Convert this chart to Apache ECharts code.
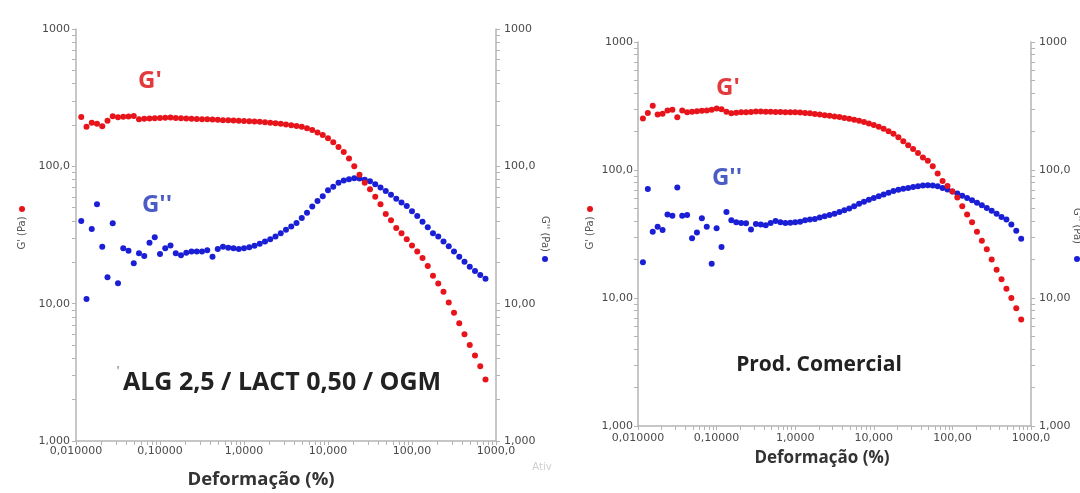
<!DOCTYPE html>
<html><head><meta charset="utf-8">
<script src="https://cdn.jsdelivr.net/npm/echarts@6/dist/echarts.min.js"></script>
<style>html,body{margin:0;padding:0;background:#fff}#c{width:1080px;height:493px}</style>
</head><body><div id="c"></div>
<script>
// Strain (%) values shared by both measurements
const strain = [0.01155,0.01334,0.0154,0.01778,0.02054,0.02371,0.02738,0.03162,0.03652,0.04217,0.0487,0.05623,0.06494,0.07499,0.0866,
0.1,0.1155,0.1334,0.154,0.1778,0.2054,0.2371,0.2738,0.3162,0.3652,0.4217,0.487,0.5623,0.6494,0.7499,0.866,
1,1.155,1.334,1.54,1.778,2.054,2.371,2.738,3.162,3.652,4.217,4.87,5.623,6.494,7.499,8.66,
10,11.55,13.34,15.4,17.78,20.54,23.71,27.38,31.62,36.52,42.17,48.7,56.23,64.94,74.99,86.6,
100,115.5,133.4,154,177.8,205.4,237.1,273.8,316.2,365.2,421.7,487,562.3,649.4,749.9];

// Left panel: ALG 2,5 / LACT 0,50 / OGM
const gp1 = [229,194,208,204,196,215,232,228,230,231, 233,220,222,223,224,225,226,227,225,224,
223,222,221,220,220,219,218,217,217,216, 215,214,213,212,211,209,208,206,204,202,
199,197,194,189,184,176,169,160,150,138, 127,114,100,87,76,68,60,53,45,40.5,
35.5,32.5,29.5,26.5,24,21.5,18.8,16,14,12.2, 10.2,8.6,7.2,6,5,4.2,3.5,2.8];
const gpp1 = [40,10.8,35,53,26,15.6,38.5,14.1,25.3,24.3, 19.7,23.3,22.2,27.8,30.5,23,25.3,26.5,23.3,22.5,
23.5,24,24,24,24.5,22,25,26,25.5,25.3, 25,25.3,25.8,26.4,27.3,28.3,29.5,30.8,32.5,34.5,
36.5,38.6,42,46,51,56,60.5,67,71,76, 79,80.5,82,81.5,80,78,74,70,66,62,
58,54.5,51.5,47,43.5,39.5,36,32.5,30.8,28.3, 26.2,24,22,20.2,18.6,17.3,16.2,15.2];

// Right panel: Prod. Comercial
const gp2 = [252,279,317,271,275,292,295,258,292,282, 285,288,290,292,296,302,298,285,278,280,
282,283,284,286,286,285,285,284,284,283, 283,282,281,279,277,274,271,268,265,262,
259,255,251,247,243,237,231,225,218,210, 201,192,180,168,156,146,136,125,118,107,
94,82,75,68,61,52,45,39,33,28, 24,20,16.6,14,11.8,10,8.3,6.8];
const gpp2 = [19,71,33,36,34,45,44,73,44,44.5, 29.3,32.5,42,36,18.5,35,25,47,40.5,39,
38.6,38.3,34.3,37.8,37.5,37,38.5,40,39,38.6, 38.8,39,39.5,40.5,41,41.5,42.5,43.5,44.5,45.5,
47,48.5,50,52,54.5,56.5,58.5,60.5,62.5,64.5, 66.5,68.5,70,71.5,72.5,73.5,74.5,75.5,76,75.5,
74.5,72.5,70.5,68,65.5,63,60.5,58,55.5,53, 50.5,48,45.5,43,41,37.5,33.5,29];

const xTickLabels = ['0,010000','0,10000','1,0000','10,000','100,00','1000,0'];
const yTickLabels = ['1,000','10,00','100,0','1000'];

const RED = '#e8141c', BLUE = '#1a1fd6';
const AX = '#b4b4b4', LBL = '#4a4a4a';

function decadesWithMinor(lo, hi) {
  const out = [];
  for (let e = lo; e < hi; e++) {
    for (let m = 1; m <= 9; m++) out.push(Number((m * Math.pow(10, e)).toPrecision(6)));
  }
  out.push(Math.pow(10, hi));
  return out;
}
const xTicksAll = decadesWithMinor(-2, 3);
const yTicksAll = decadesWithMinor(0, 3);

function xAx(g, margin) {
  return {
    type: 'log', logBase: 10, gridIndex: g, min: 0.01, max: 1000,
    axisLine: {show: true, onZero: false, lineStyle: {color: AX, width: 1.5}},
    axisTick: {show: true, length: 4, customValues: xTicksAll, lineStyle: {color: AX}},
    axisLabel: {margin: margin, color: LBL, fontFamily: 'DejaVu Sans', fontSize: 11,
      formatter: v => xTickLabels[Math.round(Math.log10(v)) + 2]},
    splitLine: {show: false}
  };
}
function yAx(g, pos, margin) {
  return {
    type: 'log', logBase: 10, gridIndex: g, min: 1, max: 1000, position: pos,
    axisLine: {show: true, onZero: false, lineStyle: {color: AX, width: 1.5}},
    axisTick: {show: true, length: 4, customValues: yTicksAll, lineStyle: {color: AX}},
    axisLabel: {margin: margin, color: LBL, fontFamily: 'DejaVu Sans', fontSize: 11,
      formatter: v => yTickLabels[Math.round(Math.log10(v))]},
    splitLine: {show: false}
  };
}
function pts(ys) { return strain.map((x, i) => [x, ys[i]]); }
function sc(name, xi, yi, ys, color) {
  return {type: 'scatter', name: name, xAxisIndex: xi, yAxisIndex: yi, data: pts(ys),
    symbol: 'circle', symbolSize: 6, itemStyle: {color: color, opacity: 1}, silent: true, z: color === RED ? 3 : 2};
}

const chart = echarts.init(document.getElementById('c'), null, {renderer: 'canvas'});
const txt = (x, y, text, font, fill, rot) => ({type: 'text', x: x, y: y, rotation: rot || 0, silent: true,
  style: {text: text, font: font, fill: fill, align: 'center', verticalAlign: 'middle'}});
const dot = (x, y, color) => ({type: 'circle', silent: true, shape: {cx: x, cy: y, r: 3}, style: {fill: color}});

chart.setOption({
  animation: false,
  backgroundColor: '#fff',
  grid: [
    {left: 76, top: 29, width: 420, height: 412, outerBoundsMode: 'none', containLabel: false},
    {left: 638, top: 42, width: 393, height: 384, outerBoundsMode: 'none', containLabel: false}
  ],
  xAxis: [xAx(0, 5), xAx(1, 7)],
  yAxis: [yAx(0, 'left', 6), yAx(0, 'right', 8), yAx(1, 'left', 5), yAx(1, 'right', 8)],
  series: [
    sc("G'", 0, 0, gp1, RED), sc("G''", 0, 1, gpp1, BLUE),
    sc("G'", 1, 2, gp2, RED), sc("G''", 1, 3, gpp2, BLUE)
  ],
  graphic: [
    txt(150, 81, "G'", 'bold 24px "Open Sans"', '#e33a3c'),
    txt(157, 205, "G''", 'bold 24px "Open Sans"', '#4b5cc4'),
    txt(728, 88, "G'", 'bold 24px "Open Sans"', '#e33a3c'),
    txt(727, 178, "G''", 'bold 24px "Open Sans"', '#4b5cc4'),
    txt(118, 372, "'", '12px "Open Sans"', '#555'),
    txt(282, 383, "ALG 2,5 / LACT 0,50 / OGM", 'bold 25px "Open Sans"', '#222'),
    txt(819, 365, "Prod. Comercial", 'bold 21px "Open Sans"', '#222'),
    txt(261, 480, "Deformação (%)", 'bold 18.5px "Open Sans"', '#333'),
    txt(822, 458, "Deformação (%)", 'bold 17px "Open Sans"', '#333'),
    txt(22, 233, "G' (Pa)", '10px "DejaVu Sans"', '#555', Math.PI / 2),
    dot(22, 209, RED),
    txt(545, 234, "G'' (Pa)", '10px "DejaVu Sans"', '#555', -Math.PI / 2),
    dot(545, 259, BLUE),
    txt(590, 233, "G' (Pa)", '10px "DejaVu Sans"', '#555', Math.PI / 2),
    dot(590, 209, RED),
    txt(1077, 226, "G'' (Pa)", '10px "DejaVu Sans"', '#555', -Math.PI / 2),
    dot(1077, 259, BLUE),
    txt(542, 467, "Ativ", '10px "DejaVu Sans"', '#cfcfcf')
  ]
});
</script></body></html>
